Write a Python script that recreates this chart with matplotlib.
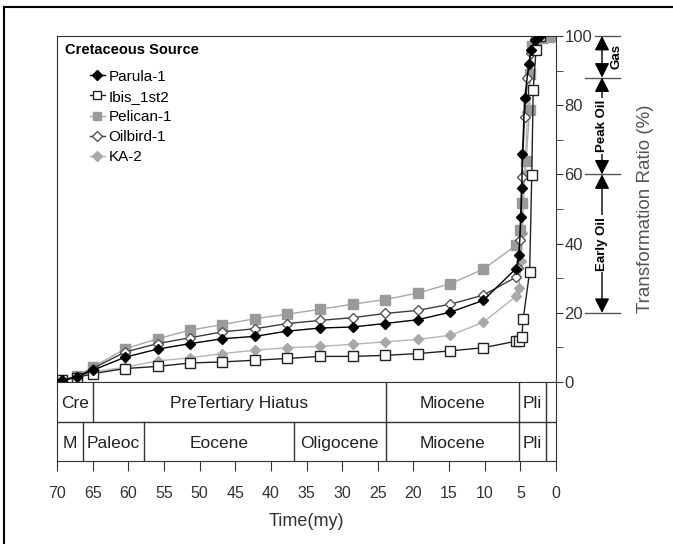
import matplotlib.pyplot as plt
from matplotlib.lines import Line2D

plt.rcParams['font.family'] = ['Liberation Sans', 'DejaVu Sans']

# --- datos (tiempo en Ma, razón de transformación en %) ---
t_base = [69.3, 67.2, 65.0, 60.4, 55.9, 51.3, 46.8, 42.2, 37.7, 33.1, 28.5,
          24.0, 19.4, 14.8, 10.2, 5.6]

parula_t = t_base + [5.2, 4.9, 4.8, 4.7, 4.4, 3.8, 3.5, 3.0, 2.3]
parula_y = [0.5, 1.5, 3.4, 7.2, 9.5, 11.1, 12.5, 13.2, 14.7, 15.6, 15.9,
            16.9, 18.0, 20.2, 23.6, 32.8,
            36.6, 47.7, 56.0, 66.0, 82.0, 92.0, 96.0, 98.8, 100.0]

ibis_t = t_base + [5.2, 4.8, 4.6, 3.7, 3.4, 3.2, 2.8, 2.2]
ibis_y = [0.5, 1.3, 2.4, 3.9, 4.5, 5.5, 5.8, 6.3, 6.8, 7.4, 7.4,
          7.7, 8.2, 9.0, 9.9, 11.8,
          11.8, 13.0, 18.3, 31.8, 59.7, 84.3, 96.0, 100.0]

pelican_t = t_base + [5.0, 4.7, 4.2, 3.7, 3.6, 3.4, 2.8, 2.0, 1.0, 0.3]
pelican_y = [0.5, 1.7, 4.3, 9.6, 12.5, 15.0, 16.6, 18.3, 19.6, 21.0, 22.5,
             23.8, 25.7, 28.4, 32.6, 39.5,
             44.0, 51.6, 64.0, 78.5, 89.0, 97.0, 98.5, 99.3, 99.7, 100.0]

oilbird_t = t_base + [5.3, 5.1, 4.8, 4.4, 4.0, 3.5, 3.0, 2.3]
oilbird_y = [0.5, 1.5, 3.9, 8.7, 11.1, 12.8, 14.5, 15.4, 16.9, 17.8, 18.6,
             19.8, 20.7, 22.5, 25.1, 30.3,
             33.0, 41.0, 59.2, 76.6, 88.0, 95.0, 99.0, 100.0]

ka2_t = t_base + [5.2, 4.9, 4.7, 4.4, 4.0, 3.6, 3.2, 2.5, 1.5]
ka2_y = [0.5, 1.5, 2.9, 4.3, 6.1, 7.0, 8.2, 9.2, 9.9, 10.3, 10.9,
         11.6, 12.3, 13.5, 17.3, 24.8,
         27.3, 35.0, 43.0, 60.0, 78.0, 90.0, 96.0, 99.0, 100.0]

# escala de tiempo geológico (dos filas)
fila1_limites = [70, 65, 23.9, 5.2, 1.4, 0]
fila1_nombres = ['Cre', 'PreTertiary Hiatus', 'Miocene', 'Pli', '']
fila2_limites = [70, 66.4, 57.8, 36.8, 23.9, 5.2, 1.4, 0]
fila2_nombres = ['M', 'Paleoc', 'Eocene', 'Oligocene', 'Miocene', 'Pli', '']

# zonas de generación
zonas = [(100, 88, 'Gas'), (88, 60, 'Peak Oil'), (60, 20, 'Early Oil')]
limites_zona = [100, 88, 60, 20]

# --- figura ---
W, H = 673, 544
fig = plt.figure(figsize=(W / 100, H / 100), dpi=100)

x0, x1 = 57, 556
ytop, ybot, ybox = 36, 382, 461
ax = fig.add_axes([x0 / W, 1 - ybot / H, (x1 - x0) / W, (ybot - ytop) / H])
ax.set_xlim(70, 0)
ax.set_ylim(0, 100)

ax.plot(ka2_t, ka2_y, color='#b4b4b4', lw=1, marker='D', ms=5.5,
        mfc='#a8a8a8', mec='#a8a8a8', label='KA-2', zorder=2)
ax.plot(pelican_t, pelican_y, color='#a8a8a8', lw=1, marker='s', ms=7,
        mfc='#9a9a9a', mec='#9a9a9a', label='Pelican-1', zorder=2)
ax.plot(oilbird_t, oilbird_y, color='#3c3c3c', lw=1, marker='D', ms=5.5,
        mfc='white', mec='#555555', label='Oilbird-1', zorder=3)
ax.plot(parula_t, parula_y, color='black', lw=1, marker='D', ms=5.5,
        mfc='black', mec='black', label='Parula-1', zorder=4)
ax.plot(ibis_t, ibis_y, color='#222222', lw=1, marker='s', ms=7,
        mfc='white', mec='#222222', mew=1, label='Ibis_1st2', zorder=3)

for s in ax.spines.values():
    s.set_color('#333333')
ax.set_xticks([])
ax.yaxis.tick_right()
ax.set_yticks([0, 20, 40, 60, 80, 100])
ax.set_yticks([10, 30, 50, 70, 90], minor=True)
ax.tick_params(axis='y', which='both', direction='out', length=5,
               color='#333333', labelsize=12, labelcolor='#333333', pad=1)

# leyenda
fig.text(65 / W, 1 - 50 / H, 'Cretaceous Source', fontsize=10.5,
         fontweight='bold', va='center', ha='left')
handles, labels = ax.get_legend_handles_labels()
orden = ['Parula-1', 'Ibis_1st2', 'Pelican-1', 'Oilbird-1', 'KA-2']
h = [handles[labels.index(n)] for n in orden]
leg = ax.legend(h, orden, loc='upper left', frameon=False, fontsize=11,
                bbox_to_anchor=(82 / W, 1 - 62 / H), bbox_transform=fig.transFigure,
                handlelength=1.0, handletextpad=0.25, labelspacing=0.4,
                borderpad=0, markerscale=0.9)

# zonas a la derecha
tr = ax.get_yaxis_transform()
px = lambda p: (p - x0) / (x1 - x0)
xa = px(602)
for v in limites_zona:
    inicio = 595 if v == 100 else 585
    ax.plot([px(inicio), px(620)], [v, v], transform=tr, color='#555555',
            lw=1, clip_on=False)
for top, bot, nombre in zonas:
    ax.annotate('', xy=(xa, top), xytext=(xa, bot), xycoords=tr, textcoords=tr,
                arrowprops=dict(arrowstyle='<|-|>,head_length=0.55,head_width=0.28',
                                color='black', lw=1, mutation_scale=16,
                                shrinkA=0, shrinkB=0))
    if nombre == 'Gas':
        ax.text(px(617), (top + bot) / 2, nombre, transform=tr,
                rotation=90, ha='center', va='center', fontsize=9.5,
                fontweight='bold')
    else:
        ax.text(xa, (top + bot) / 2, nombre, transform=tr, rotation=90,
                ha='center', va='center', fontsize=9.5, fontweight='bold',
                bbox=dict(facecolor='white', edgecolor='none', pad=1))

fig.text(645 / W, 1 - 209 / H, 'Transformation Ratio (%)', rotation=90,
         ha='center', va='center', fontsize=13.5, color='#555555')

# escala de tiempo
axb = fig.add_axes([x0 / W, 1 - ybox / H, (x1 - x0) / W, (ybox - ybot) / H])
axb.set_xlim(70, 0)
axb.set_ylim(0, 2)
axb.axhline(1, color='#333333', lw=1)
for lim, nombres, y in [(fila1_limites, fila1_nombres, 1),
                        (fila2_limites, fila2_nombres, 0)]:
    for b in lim[1:-1]:
        axb.plot([b, b], [y, y + 1], color='#333333', lw=1)
    for a, b, n in zip(lim[:-1], lim[1:], nombres):
        axb.text((a + b) / 2, y + 0.45, n, ha='center', va='center',
                 fontsize=12.5, color='#222222')
for s in axb.spines.values():
    s.set_color('#333333')
axb.set_yticks([])
axb.set_xticks(range(0, 75, 5))
axb.tick_params(axis='x', direction='out', length=7, color='#333333',
                labelsize=11.5, labelcolor='#333333', pad=11)
axb.set_xlabel('Time(my)', fontsize=13, color='#333333', labelpad=9)

# marco de la figura
fig.add_artist(Line2D([4 / W, 4 / W], [0, 1 - 7 / H], color='black', lw=1.5))
fig.add_artist(Line2D([4 / W, 1], [1 - 7 / H, 1 - 7 / H], color='black', lw=1.5))

fig.savefig('out.png', dpi=100)
